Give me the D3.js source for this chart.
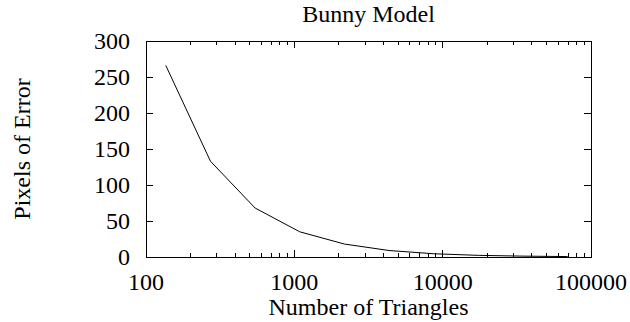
<!DOCTYPE html>
<html><head><meta charset="utf-8">
<script src="https://cdn.jsdelivr.net/npm/d3@7"></script>
<style>body{margin:0;background:#fff}svg{display:block}text{font-family:"Liberation Serif","Times New Roman",serif;font-size:24px;fill:#000}</style>
</head><body>
<script>
const triangles = [136, 272, 544, 1088, 2176, 4352, 8704, 17408, 34816, 69632];
const pixelsError = [266, 133, 68, 35, 18, 9, 4.5, 2.3, 1.2, 0.6];
const xTicks = [100, 1000, 10000, 100000];
const yTicks = [0, 50, 100, 150, 200, 250, 300];
const title = "Bunny Model", xTitle = "Number of Triangles", yTitle = "Pixels of Error";

const W = 630, H = 322;
const m = {l:146, r:591, t:41, b:257};
const svg = d3.select("body").append("svg").attr("width", W).attr("height", H);
const x = d3.scaleLog().domain([100, 100000]).range([m.l, m.r]);
const y = d3.scaleLinear().domain([0, 300]).range([m.b, m.t]);

const minor = [];
for (let d = 100; d < 100000; d *= 10) for (let k = 2; k <= 9; k++) minor.push(d * k);

const g = svg.append("g").attr("stroke", "#000").attr("stroke-width", 1).attr("shape-rendering", "crispEdges");
// x ticks (bottom and top, inward)
xTicks.forEach(v => {
  g.append("line").attr("x1", x(v)).attr("x2", x(v)).attr("y1", m.b).attr("y2", m.b - 7);
  g.append("line").attr("x1", x(v)).attr("x2", x(v)).attr("y1", m.t).attr("y2", m.t + 7);
});
minor.forEach(v => {
  g.append("line").attr("x1", x(v)).attr("x2", x(v)).attr("y1", m.b).attr("y2", m.b - 4);
  g.append("line").attr("x1", x(v)).attr("x2", x(v)).attr("y1", m.t).attr("y2", m.t + 4);
});
yTicks.forEach(v => {
  g.append("line").attr("x1", m.l).attr("x2", m.l + 7).attr("y1", y(v)).attr("y2", y(v));
  g.append("line").attr("x1", m.r).attr("x2", m.r - 7).attr("y1", y(v)).attr("y2", y(v));
});
g.append("rect").attr("x", m.l).attr("y", m.t).attr("width", m.r - m.l).attr("height", m.b - m.t).attr("fill", "none");

// labels
svg.selectAll(".xl").data(xTicks).enter().append("text")
  .attr("x", d => x(d)).attr("y", 290).attr("text-anchor", "middle").text(d => d);
svg.selectAll(".yl").data(yTicks).enter().append("text")
  .attr("x", 130).attr("y", d => y(d) + 8).attr("text-anchor", "end").text(d => d);

svg.append("text").attr("x", (m.l + m.r) / 2).attr("y", 22).attr("text-anchor", "middle").text(title);
svg.append("text").attr("x", (m.l + m.r) / 2).attr("y", 315).attr("text-anchor", "middle").text(xTitle);
svg.append("text").attr("transform", `translate(30,${(m.t + m.b) / 2}) rotate(-90)`).attr("text-anchor", "middle").text(yTitle);

// data line
const line = d3.line().x((d, i) => x(triangles[i])).y(d => y(d));
svg.append("path").datum(pixelsError).attr("d", line).attr("fill", "none").attr("stroke", "#000").attr("stroke-width", 1);
</script>
</body></html>
